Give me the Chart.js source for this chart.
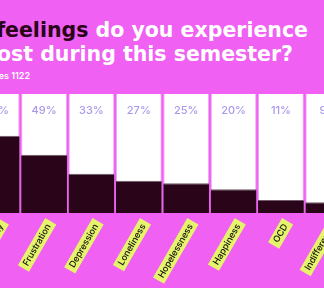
<!DOCTYPE html>
<html>
<head>
<meta charset="utf-8">
<script src="https://cdn.jsdelivr.net/npm/chart.js@4/dist/chart.umd.min.js"></script>
<style>
  html, body { margin: 0; padding: 0; }
  body { width: 324px; height: 288px; overflow: hidden; background: #ef60f3; position: relative; font-family: Inter, sans-serif; }
  .t { position: absolute; white-space: nowrap; font-family: "DejaVu Sans", sans-serif; font-weight: bold; font-size: 20.5px; line-height: 24px; color: #fff; }
  .t b { color: #2a0418; }
  #sub { position: absolute; right: 294px; top: 70px; white-space: nowrap; font-size: 9px; font-weight: 600; color: #fff; }
  #wrap { position: absolute; left: -27px; top: 94px; width: 379px; height: 194px; }
</style>
</head>
<body>
<div class="t" id="l1" style="right:16px; top:18px;"><b>Which feelings</b> do you experience</div>
<div class="t" id="l2" style="right:31px; top:42px;">the most during this semester?</div>
<div id="sub">Responses 1122</div>
<div id="wrap"><canvas id="chart"></canvas></div>
<script>
// dữ liệu
const feelings = ["Anxiety", "Frustration", "Depression", "Loneliness", "Hopelessness", "Happiness", "OCD", "Indifference"];
const shares = [65, 49, 33, 27, 25, 20, 11, 9];
const fullColumn = feelings.map(() => 100);

// vẽ nhãn % ở đầu mỗi cột
const pctLabels = {
    id: 'pctLabels',
    afterDatasetsDraw(chart) {
        const ctx = chart.ctx;
        const x = chart.scales.x, y = chart.scales.y;
        ctx.save();
        ctx.fillStyle = '#ab99ec';
        ctx.font = '500 11px Inter';
        ctx.textAlign = 'center';
        ctx.textBaseline = 'middle';
        shares.forEach((v, i) => {
            ctx.fillText(v + '%', x.getPixelForValue(i), y.getPixelForValue(100) + 17);
        });
        ctx.restore();
    }
};

const ctx = document.getElementById('chart').getContext('2d');
new Chart(ctx, {
    type: 'bar',
    data: {
        labels: feelings,
        datasets: [{
            data: shares,
            backgroundColor: '#2a0418',
            borderColor: '#6e5a68',
            borderWidth: { top: 1, left: 0, right: 0, bottom: 0 },
            borderSkipped: false,
            order: 0
        }, {
            data: fullColumn,
            backgroundColor: '#ffffff',
            borderColor: '#eaa8f2',
            borderWidth: { top: 0, left: 1, right: 1, bottom: 0 },
            borderSkipped: false,
            order: 1
        }]
    },
    options: {
        responsive: true,
        maintainAspectRatio: false,
        animation: false,
        layout: { padding: 0 },
        datasets: { bar: { grouped: false, categoryPercentage: 1, barPercentage: 0.968 } },
        plugins: { legend: { display: false }, tooltip: { enabled: false } },
        scales: {
            y: { display: false, min: 0, max: 100 },
            x: {
                grid: { display: false },
                border: { display: false },
                ticks: {
                    color: '#111',
                    font: { family: 'Inter', size: 9, weight: 500 },
                    minRotation: 60,
                    maxRotation: 60,
                    padding: 1,
                    autoSkip: false,
                    showLabelBackdrop: true,
                    backdropColor: '#e6f46c',
                    backdropPadding: { top: 1, bottom: 1, left: 4, right: 4 }
                },
                afterFit(scale) {
                    scale.paddingLeft = 0;
                    scale.paddingRight = 0;
                    scale.height = 75;
                }
            }
        }
    },
    plugins: [pctLabels]
});
</script>
</body>
</html>
